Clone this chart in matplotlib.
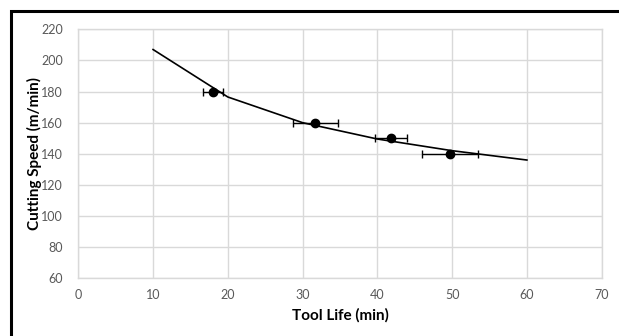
import matplotlib.pyplot as plt
from matplotlib.patches import Rectangle

plt.rcParams['font.family'] = ['Lato', 'DejaVu Sans']

# measured tool life vs cutting speed, with spread in tool life
tool_life = [18, 31.7, 41.8, 49.7]
cutting_speed = [180, 160, 150, 140]
life_err = [1.3, 3.0, 2.1, 3.7]

# Taylor tool life curve
curve_life = [10, 20, 30, 40, 50, 60]
curve_speed = [207, 176.5, 160, 149.5, 142, 136]

x_ticks = [0, 10, 20, 30, 40, 50, 60, 70]
y_ticks = [60, 80, 100, 120, 140, 160, 180, 200, 220]

fig = plt.figure(figsize=(6.19, 3.36), dpi=100)
ax = fig.add_axes([0.1265, 0.1717, 0.8455, 0.7411])

ax.plot(curve_life, curve_speed, color='black', lw=1.2, zorder=3)
ax.errorbar(tool_life, cutting_speed, xerr=life_err, fmt='o', color='black',
            ms=6, elinewidth=1, capsize=3, capthick=1, zorder=4)

ax.set_xlim(0, 70)
ax.set_ylim(60, 220)
ax.set_xticks(x_ticks)
ax.set_yticks(y_ticks)
ax.grid(True, color='#d9d9d9', lw=1)
ax.set_axisbelow(True)
for s in ax.spines.values():
    s.set_color('#d9d9d9')
    s.set_linewidth(1)
ax.tick_params(length=0, labelsize=9, labelcolor='#595959')
ax.tick_params(axis='x', pad=8)
ax.tick_params(axis='y', pad=11)

ax.set_xlabel('Tool Life (min)', fontsize=11, fontweight='bold', labelpad=5)
ax.set_ylabel('Cutting Speed (m/min)', fontsize=11, fontweight='bold')
ax.yaxis.set_label_coords(-0.069, 0.5)

# outer chart border
fig.patches.append(Rectangle((10.5 / 619, -0.1), 1.2, 1.1 - 11 / 336,
                             transform=fig.transFigure, fill=False,
                             edgecolor='black', lw=2.2))

fig.savefig('out.png', dpi=100)
